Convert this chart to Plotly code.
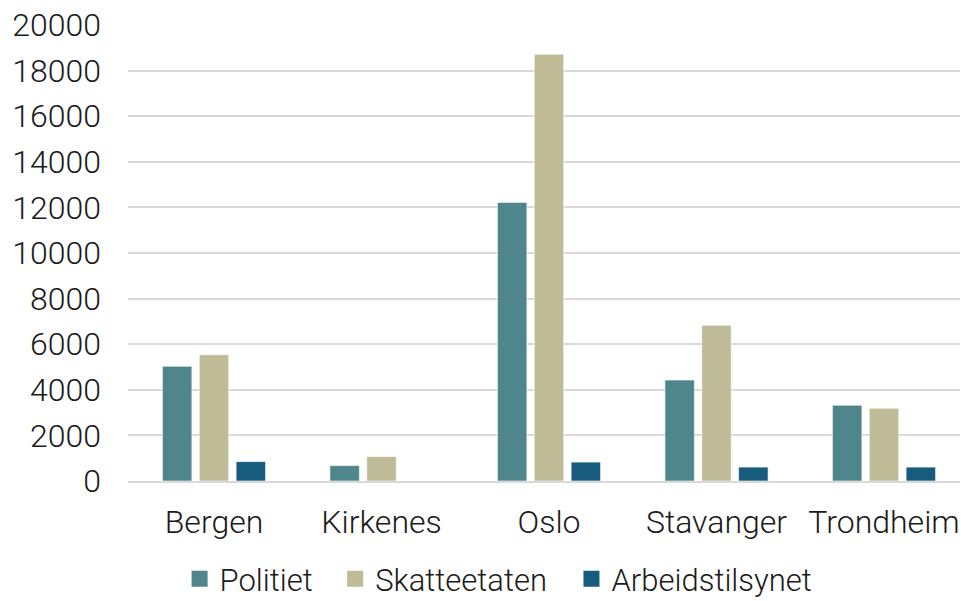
import plotly.graph_objects as go

categories = ["Bergen", "Kirkenes", "Oslo", "Stavanger", "Trondheim"]
politiet = [5030, 675, 12220, 4430, 3320]
skatteetaten = [5540, 1070, 18715, 6830, 3190]
arbeidstilsynet = [850, 0, 830, 610, 610]
y_ticks = [0, 2000, 4000, 6000, 8000, 10000, 12000, 14000, 16000, 18000, 20000]

series = [
    ("Politiet", politiet, "#4E868C", "legend", 0.0620),
    ("Skatteetaten", skatteetaten, "#BFBB97", "legend2", 0.2490),
    ("Arbeidstilsynet", arbeidstilsynet, "#175C7C", "legend3", 0.5330),
]

font = dict(family="Roboto, Liberation Sans, sans-serif", size=32, color="#1a1a1a", weight=300)
lfont = dict(family="Roboto, Liberation Sans, sans-serif", size=31, color="#1a1a1a", weight=300)

fig = go.Figure()
legends = {}
for name, vals, color, lg, lx in series:
    fig.add_trace(go.Bar(
        x=categories, y=vals, name=name, legendgroup=name, showlegend=False,
        marker=dict(color=color, line=dict(color="rgba(255,255,255,0.6)", width=1)),
    ))
    # legend proxy (no data drawn) to get a larger square swatch
    fig.add_trace(go.Scatter(
        x=[None], y=[None], mode="markers", name=name, legendgroup=name, legend=lg,
        marker=dict(symbol="square", size=16, color=color), showlegend=True,
    ))
    legends[lg] = dict(orientation="h", x=lx, xanchor="left", y=-0.215, yanchor="middle",
                       font=lfont, bgcolor="rgba(0,0,0,0)", itemwidth=30, itemsizing="trace")

fig.update_layout(
    width=961, height=601,
    margin=dict(l=128, r=1, t=25, b=120, autoexpand=False),
    paper_bgcolor="white", plot_bgcolor="white",
    barmode="group", bargap=0.34, bargroupgap=0.2,
    font=font,
    xaxis=dict(showline=True, linecolor="#d9d9d9", linewidth=2, ticks="",
               type="category", range=[-0.5134, 4.4537],
               tickfont=font, ticklabelstandoff=12, automargin=False),
    yaxis=dict(range=[0, 20000], tickvals=y_ticks, ticktext=[str(v) for v in y_ticks],
               showgrid=True, gridcolor="#d9d9d9", gridwidth=2, zeroline=False,
               tickfont=font, ticklabelstandoff=26, showline=False, automargin=False),
    **legends,
)

fig.write_html("out.html", config={"displayModeBar": False},
               post_script="document.body.style.margin='0';")
